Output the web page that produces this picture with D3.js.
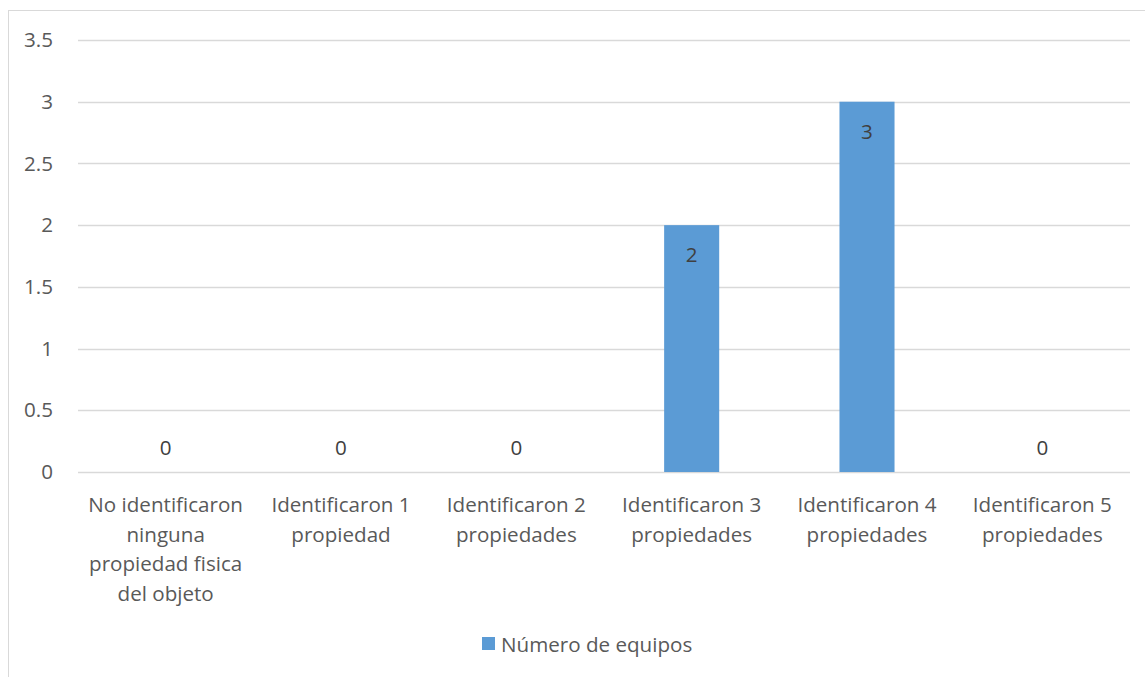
<!DOCTYPE html>
<html>
<head>
<meta charset="utf-8">
<script src="https://cdn.jsdelivr.net/npm/d3@7"></script>
<style>
html,body{margin:0;padding:0;background:#fff;}
svg{display:block;}
text{font-family:"Open Sans", "Noto Sans", sans-serif;}
</style>
</head>
<body>
<svg id="chart" width="1145" height="677"></svg>
<script>
const categories = [
  ["No identificaron", "ninguna", "propiedad fisica", "del objeto"],
  ["Identificaron 1", "propiedad"],
  ["Identificaron 2", "propiedades"],
  ["Identificaron 3", "propiedades"],
  ["Identificaron 4", "propiedades"],
  ["Identificaron 5", "propiedades"]
];
const values = [0, 0, 0, 2, 3, 0];
const yTicks = [0, 0.5, 1, 1.5, 2, 2.5, 3, 3.5];
const seriesName = "Número de equipos";

const W = 1145, H = 677;
const margin = {left: 78, right: 15, top: 40, bottom: 205};
const svg = d3.select("#chart");
const fs = 20.6;
const ff = '"Open Sans", "Noto Sans", sans-serif';

svg.append("rect").attr("x", 8.5).attr("y", 10.5).attr("width", W + 20).attr("height", H + 20)
  .attr("fill", "#fff").attr("stroke", "#d9d9d9").attr("stroke-width", 1);

const x = d3.scaleBand().domain(d3.range(categories.length))
  .range([margin.left, W - margin.right]).paddingInner(0.686).paddingOuter(0.343);
const y = d3.scaleLinear().domain([0, 3.5]).range([H - margin.bottom, margin.top]);

svg.append("g").selectAll("line").data(yTicks).join("line")
  .attr("x1", margin.left).attr("x2", W - margin.right)
  .attr("y1", d => Math.round(y(d)) + 0.5).attr("y2", d => Math.round(y(d)) + 0.5)
  .attr("stroke", "#d9d9d9").attr("stroke-width", 1.3);

const yAxis = d3.axisLeft(y).tickValues(yTicks).tickSize(0).tickPadding(25).tickFormat(d3.format("~g"));
const gy = svg.append("g").attr("transform", `translate(${margin.left},0)`).call(yAxis);
gy.select(".domain").remove();
gy.attr("font-family", ff).attr("font-size", fs);
gy.selectAll("text").attr("fill", "#595959");

svg.append("g").selectAll("rect").data(values).join("rect")
  .attr("x", (d, i) => x(i)).attr("width", x.bandwidth())
  .attr("y", d => y(d)).attr("height", d => y(0) - y(d))
  .attr("fill", "#5b9bd5");

svg.append("g").selectAll("text").data(values).join("text")
  .attr("x", (d, i) => x(i) + x.bandwidth() / 2)
  .attr("y", d => d > 0 ? y(d) + 29 : y(0) - 25)
  .attr("text-anchor", "middle").attr("dominant-baseline", "central")
  .attr("font-size", fs).attr("fill", "#404040")
  .text(d => d);

const xl = svg.append("g");
categories.forEach((lines, i) => {
  const t = xl.append("text")
    .attr("x", x(i) + x.bandwidth() / 2).attr("y", y(0) + 32)
    .attr("text-anchor", "middle").attr("dominant-baseline", "central")
    .attr("font-size", fs).attr("fill", "#595959");
  lines.forEach((ln, j) => {
    t.append("tspan").attr("x", x(i) + x.bandwidth() / 2).attr("dy", j === 0 ? 0 : 29.5).text(ln);
  });
});

const lg = svg.append("g").attr("transform", `translate(${482},${644})`);
lg.append("rect").attr("x", 0).attr("y", -7).attr("width", 13).attr("height", 13).attr("fill", "#5b9bd5");
lg.append("text").attr("x", 19).attr("y", 0).attr("dominant-baseline", "central")
  .attr("font-size", fs).attr("fill", "#595959").text(seriesName);
</script>
</body>
</html>
